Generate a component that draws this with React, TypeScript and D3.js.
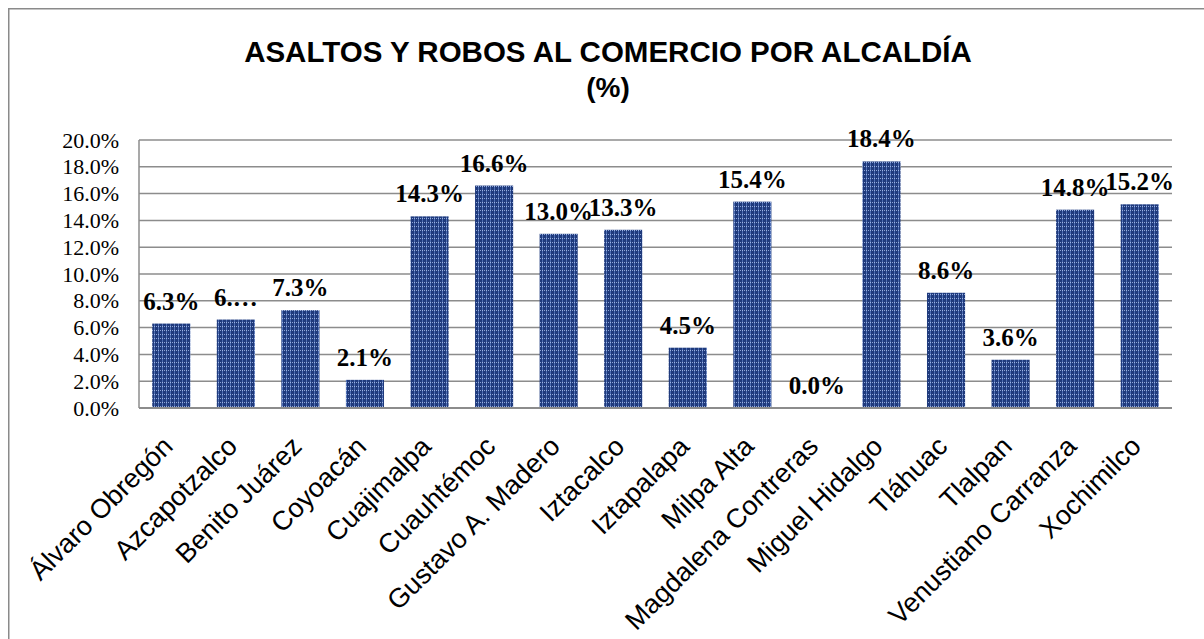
import React from "react";
import * as d3 from "d3";

const categories = [
  "Álvaro Obregón",
  "Azcapotzalco",
  "Benito Juárez",
  "Coyoacán",
  "Cuajimalpa",
  "Cuauhtémoc",
  "Gustavo A. Madero",
  "Iztacalco",
  "Iztapalapa",
  "Milpa Alta",
  "Magdalena Contreras",
  "Miguel Hidalgo",
  "Tláhuac",
  "Tlalpan",
  "Venustiano Carranza",
  "Xochimilco",
];
const values = [6.3, 6.6, 7.3, 2.1, 14.3, 16.6, 13.0, 13.3, 4.5, 15.4, 0.0, 18.4, 8.6, 3.6, 14.8, 15.2];
const labelTexts = ["6.3%", "6.…", "7.3%", "2.1%", "14.3%", "16.6%", "13.0%", "13.3%", "4.5%", "15.4%", "0.0%", "18.4%", "8.6%", "3.6%", "14.8%", "15.2%"];
const yTicks = [0, 2, 4, 6, 8, 10, 12, 14, 16, 18, 20];
const titleLine1 = "ASALTOS Y ROBOS AL COMERCIO POR ALCALDÍA";
const titleLine2 = "(%)";

export default function App() {
  const W = 1204;
  const H = 639;
  const left = 139;
  const right = 1172;
  const top = 140;
  const bottom = 408;

  const x = d3.scaleBand<string>().domain(categories).range([left, right]).paddingInner(0.41).paddingOuter(0.205);
  const y = d3.scaleLinear().domain([0, 20]).range([bottom, top]);
  const fmt = d3.format(".1f");
  const grid = "#8c8c8c";

  return (
    <svg width={W} height={H} style={{ position: "absolute", left: 0, top: 0 }}>
      <defs>
        <pattern id="barPat" width="4" height="4" patternUnits="userSpaceOnUse">
          <rect width="4" height="4" fill="#1f3a7c" />
          <rect x="2" y="0" width="1" height="4" fill="#4d6db3" />
          <rect x="0" y="2" width="1" height="1" fill="#8aa3d8" />
          <rect x="2" y="2" width="1" height="1" fill="#9fb4e0" />
        </pattern>
      </defs>
      <rect x={0} y={0} width={W} height={H} fill="#fff" />
      <rect x={8.75} y={8.75} width={W + 20} height={H + 20} fill="#fff" stroke="#8a8a8a" strokeWidth={1.5} />

      <text x={608} y={62} textAnchor="middle" fontFamily="Liberation Sans, Arial, sans-serif" fontWeight="bold" fontSize={29.5} fill="#000">
        {titleLine1}
      </text>
      <text x={608} y={97} textAnchor="middle" fontFamily="Liberation Sans, Arial, sans-serif" fontWeight="bold" fontSize={28} fill="#000">
        {titleLine2}
      </text>

      {yTicks.map((t) => (
        <g key={t}>
          {t > 0 && <line x1={left} x2={right} y1={y(t)} y2={y(t)} stroke={grid} strokeWidth={1.5} />}
          <text x={119} y={y(t) + 7.5} textAnchor="end" fontFamily="Liberation Serif, Times New Roman, serif" fontSize={22} fill="#000">
            {fmt(t) + "%"}
          </text>
        </g>
      ))}

      {categories.map((c, i) => (
        <rect key={c} x={x(c)} y={y(values[i])} width={x.bandwidth()} height={bottom - y(values[i])} fill="url(#barPat)" />
      ))}

      <line x1={left} x2={left} y1={top} y2={bottom} stroke={grid} strokeWidth={1.5} />
      <line x1={left} x2={right} y1={bottom} y2={bottom} stroke={grid} strokeWidth={2} />

      {categories.map((c, i) => (
        <text
          key={"l" + c}
          x={(x(c) as number) + x.bandwidth() / 2}
          y={y(values[i]) - 14}
          textAnchor="middle"
          fontFamily="Liberation Serif, Times New Roman, serif"
          fontWeight="bold"
          fontSize={25}
          fill="#000"
        >
          {labelTexts[i]}
        </text>
      ))}

      {categories.map((c) => {
        const cx = (x(c) as number) + x.bandwidth() / 2 + 3;
        const cy = bottom + 40;
        return (
          <text
            key={"x" + c}
            transform={`translate(${cx},${cy}) rotate(-45)`}
            textAnchor="end"
            fontFamily="Liberation Sans, Arial, sans-serif"
            fontSize={27}
            fill="#000"
          >
            {c}
          </text>
        );
      })}
    </svg>
  );
}
